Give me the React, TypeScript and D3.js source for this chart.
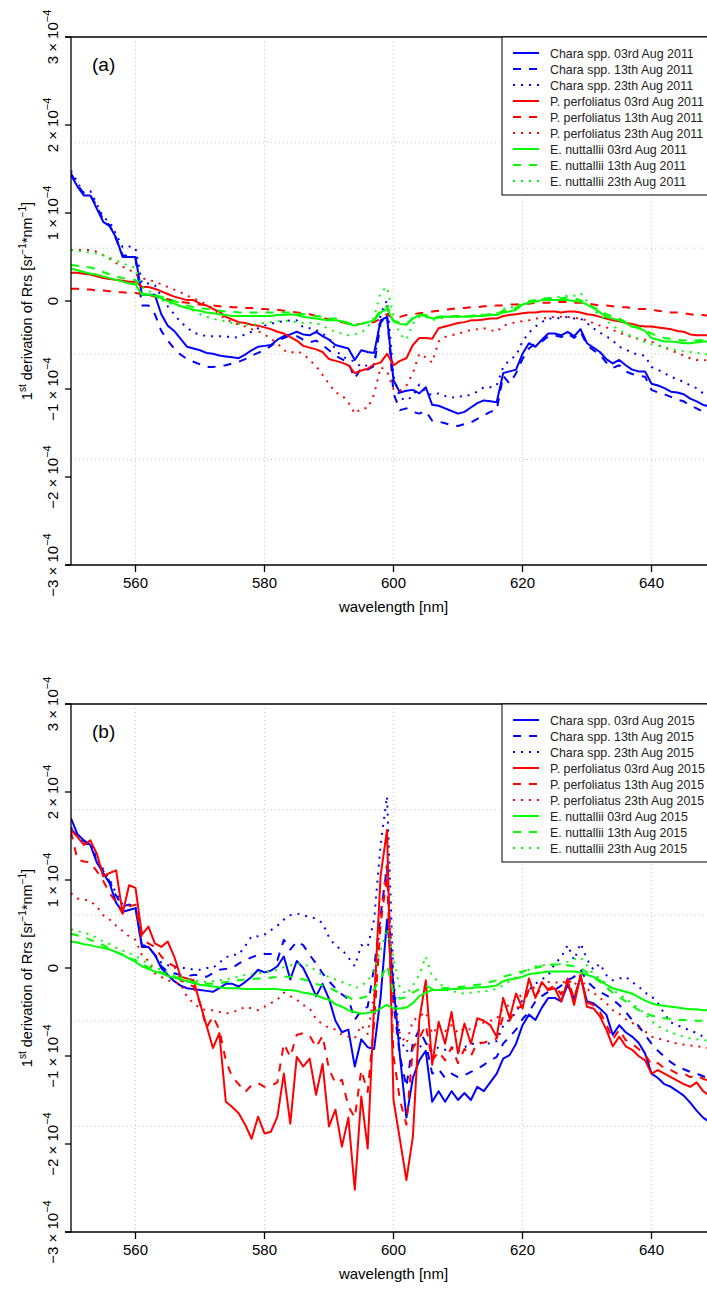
import React from "react";
import * as d3 from "d3";

// ---------- data (values in units of 1e-5 sr^-1 nm^-1) ----------
const WAVELENGTHS: number[] = d3.range(550, 651); // 550..650 nm, 1 nm steps

const X_TICKS = [560, 580, 600, 620, 640];
const Y_TICKS = [-3, -2, -1, 0, 1, 2, 3]; // x 10^-4
const GRID_Y = [-1.8, -0.6, 0.6, 1.8]; // x 10^-4
const VALUE_UNIT = 1e-5;

// Panel (a) 2011
const A_CHARA_03 = [
  14.3, 13.0, 12.0, 12.0, 10.5, 9.0, 8.5, 7.2, 5.0, 5.0,
  5.0, 0.7, 0.7, 0.7, -1.5, -2.8, -3.4, -4.3, -5.2, -5.4,
  -5.6, -5.9, -6.0, -6.2, -6.3, -6.4, -6.5, -6.1, -5.6, -5.2,
  -5.1, -5.0, -4.4, -4.0, -3.8, -3.5, -3.8, -3.9, -3.5, -4.0,
  -4.4, -5.0, -5.2, -5.4, -6.7, -5.6, -5.8, -5.9, -2.2, -1.8,
  -9.0, -10.4, -10.2, -10.1, -10.5, -9.8, -11.8, -11.9, -12.2, -12.5,
  -12.8, -12.6, -12.1, -11.6, -11.3, -11.4, -11.5, -8.2, -8.0, -7.8,
  -6.0, -4.8, -5.2, -4.4, -3.7, -3.7, -3.9, -3.5, -4.0, -3.2,
  -4.8, -5.3, -5.8, -6.6, -7.1, -6.7, -7.3, -7.8, -8.0, -8.0,
  -9.4, -9.6, -9.9, -10.3, -10.4, -10.6, -11.1, -11.4, -11.8, -12.0,
  -12.1,
];
const A_CHARA_13 = [
  14.5, 13.2, 12.2, 12.0, 10.8, 9.2, 8.6, 7.0, 5.2, 5.1,
  4.8, -0.5, -0.5, -1.5, -3.4, -4.5, -5.4, -6.1, -6.6, -6.9,
  -7.2, -7.5, -7.5, -7.4, -7.3, -7.1, -6.9, -6.6, -6.2, -5.9,
  -5.6, -5.1, -4.5, -4.2, -3.9, -4.0, -4.4, -4.7, -4.5, -5.0,
  -5.6, -6.2, -6.6, -7.0, -8.8, -7.6, -7.8, -7.4, -2.5, -1.5,
  -10.5, -12.4, -12.2, -12.6, -12.8, -12.5, -13.6, -13.7, -13.9, -14.1,
  -14.2, -14.0, -13.8, -13.4, -13.0, -12.6, -12.4, -8.5, -9.4, -8.2,
  -6.6, -5.4, -4.8, -4.6, -4.0, -3.9, -4.1, -3.7, -4.2, -3.5,
  -5.0, -5.6, -6.1, -7.0, -7.6, -7.3, -8.0, -8.3, -8.5, -8.6,
  -10.1, -10.4, -10.6, -10.9, -11.2, -11.4, -11.9, -12.2, -12.6, -12.8,
  -12.9,
];
const A_CHARA_23 = [
  14.8, 13.5, 12.3, 12.5, 11.0, 9.5, 9.0, 7.6, 6.1, 6.2,
  6.0, 2.0, 2.0, 1.8, 0.5, -0.6, -1.5, -2.4, -3.0, -3.6,
  -3.8, -4.0, -4.0, -4.0, -4.0, -4.2, -4.1, -3.8, -3.5, -3.1,
  -2.8, -2.6, -2.4, -2.3, -2.2, -2.2, -3.0, -3.1, -3.3, -3.7,
  -4.2, -5.5, -6.3, -6.6, -6.9, -7.5, -7.3, -7.2, -1.5, 0.1,
  -8.5, -11.0, -11.3, -10.8, -9.5, -10.4, -10.7, -10.5, -10.8, -11.0,
  -10.8, -10.9, -10.6, -10.3, -9.8, -9.8, -9.6, -7.5, -6.7, -6.2,
  -4.6, -3.6, -2.9, -2.4, -2.0, -2.0, -1.9, -1.8, -2.0, -2.0,
  -2.5, -3.1, -3.6, -4.0, -4.5, -5.2, -5.5, -5.9, -6.1, -6.2,
  -7.5, -7.8, -8.2, -8.6, -8.9, -9.2, -9.6, -9.9, -10.5, -10.6,
  -10.8,
];
const A_PERF_03 = [
  3.2, 3.2, 3.1, 3.0, 2.8, 2.6, 2.5, 2.4, 2.3, 2.2,
  2.2, 1.6, 1.6, 1.4, 1.1, 0.8, 0.5, 0.3, 0.1, 0.1,
  -0.3, -0.5, -0.9, -1.2, -1.8, -2.1, -2.4, -2.5, -2.7, -2.8,
  -3.0, -3.2, -3.5, -3.7, -4.1, -4.5, -5.1, -5.3, -5.5, -5.8,
  -6.6, -6.8, -7.0, -7.3, -8.2, -7.9, -7.7, -7.2, -7.0, -6.0,
  -7.3, -6.8, -6.5, -5.0, -4.2, -4.2, -4.3, -3.1, -2.9, -2.7,
  -2.5, -2.4, -2.2, -2.2, -2.1, -2.0, -2.0, -1.7, -1.6, -1.5,
  -1.4, -1.3, -1.3, -1.2, -1.2, -1.2, -1.3, -1.2, -1.2, -1.3,
  -1.5, -1.6, -1.8, -2.0, -2.2, -2.3, -2.5, -2.6, -2.8, -2.9,
  -2.9, -3.0, -3.1, -3.2, -3.4, -3.5, -3.8, -3.9, -3.9, -3.9,
  -3.9,
];
const A_PERF_13 = [
  1.4, 1.4, 1.3, 1.3, 1.2, 1.2, 1.1, 1.0, 1.0, 0.9,
  0.9, 0.8, 0.7, 0.5, 0.3, 0.2, 0.0, -0.1, -0.2, -0.3,
  -0.4, -0.5, -0.5, -0.6, -0.6, -0.7, -0.7, -0.8, -0.8, -0.9,
  -0.9, -1.0, -1.0, -1.1, -1.2, -1.3, -1.4, -1.5, -1.7, -1.9,
  -2.1, -2.3, -2.4, -2.6, -2.7, -2.6, -2.5, -2.4, -2.0, -1.5,
  -2.0, -1.8, -1.6, -1.5, -1.4, -1.3, -1.2, -1.1, -1.0, -0.9,
  -0.8, -0.8, -0.7, -0.7, -0.6, -0.6, -0.5, -0.5, -0.4, -0.4,
  -0.3, -0.3, -0.2, -0.2, -0.2, -0.1, -0.1, -0.1, -0.2, -0.2,
  -0.3, -0.4, -0.5, -0.5, -0.6, -0.7, -0.7, -0.8, -0.9, -0.9,
  -1.0, -1.1, -1.2, -1.3, -1.3, -1.4, -1.5, -1.6, -1.6, -1.7,
  -1.7,
];
const A_PERF_23 = [
  5.8, 5.8, 5.8, 5.8, 5.6, 5.2, 4.8, 4.3, 3.9, 3.6,
  3.0, 2.6, 2.4, 2.2, 1.9, 1.6, 1.3, 1.0, 0.6, 0.3,
  0.0, -0.4, -0.9, -1.5, -2.1, -2.4, -2.7, -2.9, -3.2, -3.4,
  -3.8, -4.3, -4.8, -5.6, -5.9, -5.7, -6.0, -6.7, -7.4, -8.4,
  -9.4, -10.4, -10.7, -11.5, -12.8, -12.2, -12.2, -10.6, -7.5, -8.0,
  -10.0, -10.2, -9.6, -8.2, -6.0, -6.4, -7.0, -4.6, -4.1, -3.9,
  -3.7, -3.5, -3.3, -3.2, -3.1, -3.3, -3.5, -2.8, -2.6, -2.4,
  -2.3, -2.2, -2.0, -2.0, -1.9, -1.8, -1.8, -1.8, -1.9, -2.0,
  -2.2, -2.5, -2.8, -3.0, -3.3, -3.6, -3.9, -4.1, -4.3, -4.4,
  -4.6, -5.0, -5.3, -5.6, -5.9, -6.2, -6.5, -6.7, -6.7, -6.8,
  -6.9,
];
const A_NUTT_03 = [
  3.7, 3.5, 3.3, 3.1, 3.0, 2.8, 2.6, 2.4, 2.2, 2.0,
  1.9, 0.7, 0.7, 0.6, 0.3, 0.0, -0.3, -0.6, -0.8, -1.0,
  -1.1, -1.3, -1.4, -1.5, -1.6, -1.7, -1.7, -1.7, -1.7, -1.7,
  -1.7, -1.7, -1.6, -1.6, -1.5, -1.6, -1.8, -1.9, -2.0, -2.1,
  -2.2, -2.2, -2.3, -2.6, -2.8, -2.6, -2.4, -2.2, -1.3, -0.9,
  -2.3, -2.6, -2.7, -2.0, -1.6, -1.7, -2.0, -1.9, -1.8, -1.8,
  -1.8, -1.8, -1.8, -1.7, -1.7, -1.6, -1.6, -1.3, -1.2, -1.0,
  -0.4, -0.2, -0.1, 0.1, 0.1, 0.1, 0.1, 0.1, 0.0, -0.1,
  -0.4, -0.8, -1.3, -1.8, -2.0, -2.2, -2.5, -2.9, -3.1, -3.4,
  -4.2, -4.4, -4.6, -4.6, -4.7, -4.8, -4.8, -4.7, -4.6, -4.6,
  -4.6,
];
const A_NUTT_13 = [
  4.1, 4.0, 3.9, 3.8, 3.6, 3.3, 3.0, 2.8, 2.6, 2.5,
  2.4, 0.8, 0.8, 0.7, 0.5, 0.3, 0.0, -0.3, -0.5, -0.7,
  -0.8, -0.9, -1.0, -1.1, -1.2, -1.2, -1.3, -1.3, -1.3, -1.3,
  -1.3, -1.3, -1.3, -1.3, -1.3, -1.4, -1.5, -1.6, -1.7, -1.8,
  -2.0, -2.0, -2.2, -2.5, -2.7, -2.6, -2.4, -2.1, -1.0, -0.6,
  -2.2, -2.5, -2.6, -1.9, -1.5, -1.6, -1.9, -1.8, -1.7, -1.7,
  -1.7, -1.7, -1.7, -1.6, -1.6, -1.5, -1.5, -1.1, -1.0, -0.8,
  -0.2, 0.0, 0.1, 0.3, 0.3, 0.3, 0.3, 0.4, 0.3, 0.1,
  -0.3, -0.7, -1.1, -1.5, -1.8, -2.0, -2.4, -2.8, -3.0, -3.3,
  -3.7, -4.0, -4.2, -4.3, -4.4, -4.5, -4.5, -4.5, -4.4, -4.4,
  -4.4,
];
const A_NUTT_23 = [
  5.8, 5.7, 5.6, 5.5, 5.4, 5.2, 4.9, 4.6, 4.3, 4.0,
  3.8, 1.6, 1.2, 0.6, 0.1, -0.2, -0.4, -0.6, -0.8, -1.1,
  -1.5, -1.8, -2.0, -2.2, -2.3, -2.5, -2.6, -2.7, -2.7, -2.6,
  -2.5, -2.4, -2.3, -2.2, -2.3, -2.4, -2.5, -2.5, -2.5, -2.8,
  -3.2, -3.5, -3.7, -3.9, -3.8, -3.6, -3.0, -1.8, 1.0, 1.6,
  -1.8, -3.8, -4.4, -2.6, -1.8, -1.8, -2.2, -2.0, -1.9, -1.8,
  -1.8, -1.7, -1.7, -1.6, -1.5, -1.5, -1.4, -0.9, -0.7, -0.7,
  -0.5, -0.2, 0.1, 0.2, 0.3, 0.4, 0.5, 0.6, 0.6, 0.9,
  0.0, -1.0, -1.6, -2.2, -2.8, -3.3, -3.7, -4.0, -4.3, -4.7,
  -4.9, -5.1, -5.2, -5.5, -5.6, -5.7, -5.8, -5.9, -6.0, -6.1,
  -6.1,
];

// Panel (b) 2015
const B_CHARA_03 = [
  17.0, 15.2, 14.5, 14.0, 12.0, 10.8, 9.6, 7.4, 6.4, 6.6,
  6.8, 2.4, 2.4, 1.5, 0.0, -0.8, -1.5, -2.0, -2.3, -2.4,
  -2.5, -2.6, -2.7, -2.3, -1.8, -1.8, -2.1, -1.6, -1.0, -0.2,
  -0.5, -0.3, 0.2, 1.3, -1.3, 0.8, 0.0, -1.5, -3.2, -1.8,
  -3.5, -6.0, -7.3, -7.0, -11.2, -8.1, -9.0, -9.2, -3.3, 5.5,
  -2.0, -10.0, -17.0, -12.5, -10.5, -9.4, -15.2, -14.0, -15.2, -14.0,
  -15.0, -14.2, -15.0, -13.5, -14.0, -13.0, -12.0, -10.3, -9.9, -8.6,
  -6.5, -5.3, -5.9, -4.5, -3.4, -3.4, -3.8, -1.9, -3.6, -1.0,
  -3.8, -4.0, -4.6, -5.3, -7.6, -6.5, -7.3, -7.8, -8.5, -9.7,
  -12.0, -12.5, -13.2, -13.5, -14.0, -14.5, -15.3, -16.2, -17.0, -17.5,
  -17.2,
];
const B_CHARA_13 = [
  15.8, 15.0, 14.4, 14.0, 12.2, 11.0, 9.8, 8.2, 7.0, 7.2,
  7.0, 2.6, 2.4, 1.5, 0.2, -0.4, -0.6, -0.8, -0.9, -0.8,
  -0.8, -1.0, -0.6, -0.2, -0.1, 0.0, 0.5, 0.9, 1.2, 1.5,
  1.6, 1.6, 0.9, 3.2, 2.1, 3.0, 2.6, 1.5, 0.5, -0.6,
  -1.5, -2.3, -3.0, -3.5, -5.9, -4.8, -4.4, 0.1, 6.0, 11.5,
  -4.0, -10.0, -13.5, -8.5, -7.0, -8.5, -12.0, -11.5, -12.5, -12.0,
  -12.4, -12.2, -11.8, -11.5, -11.0, -10.5, -10.1, -8.6, -7.8, -7.0,
  -5.8, -5.0, -3.8, -3.2, -2.7, -2.5, -2.0, -1.4, -1.0, -0.2,
  -1.5, -2.2, -2.7, -3.1, -3.6, -4.2, -5.0, -5.9, -6.6, -7.6,
  -8.6, -9.4, -10.1, -10.7, -11.2, -11.5, -11.8, -12.0, -12.3, -12.6,
  -12.7,
];
const B_CHARA_23 = [
  16.0, 15.0, 14.0, 14.2, 12.5, 11.2, 10.0, 8.5, 7.2, 7.2,
  7.0, 2.6, 2.4, 1.5, 0.6, 0.3, 0.2, 0.0, 0.0, -0.2,
  -0.2, 0.0, 0.0, 0.6, 1.2, 1.5, 1.5, 2.5, 3.6, 3.6,
  3.8, 4.3, 4.8, 5.5, 6.0, 6.2, 6.0, 5.8, 5.6, 5.1,
  3.5, 2.5, 2.1, 1.2, 0.2, 2.6, 2.4, 5.5, 14.0, 19.5,
  -1.5, -8.0, -9.5, -8.8, -9.0, -8.5, -9.5, -9.0, -9.3, -9.0,
  -9.5, -9.0, -8.6, -8.6, -8.5, -8.6, -8.3, -6.6, -5.8, -5.1,
  -3.6, -2.5, -1.8, -1.3, -0.8, 0.5, 1.2, 2.6, 0.9, 2.8,
  1.0, -0.2, 0.5, -0.8, -1.4, -1.2, -1.0, -1.6, -2.1, -2.8,
  -3.2, -4.0, -5.2, -6.2, -6.5, -6.8, -7.1, -7.4, -7.8, -8.1,
  -8.2,
];
const B_PERF_03 = [
  15.7, 14.9, 14.0, 14.5, 13.0, 10.4, 10.8, 11.1, 6.2, 9.4,
  9.1, 3.8, 4.7, 2.8, 2.4, 3.0, 1.3, -1.0, -1.2, -1.4,
  -4.0, -6.5, -9.1, -7.4, -15.2, -15.8, -16.5, -17.8, -19.4, -16.9,
  -18.8, -18.6, -16.9, -12.0, -17.7, -10.1, -11.2, -10.3, -14.4, -10.9,
  -18.0, -16.1, -20.3, -17.0, -25.2, -14.6, -20.5, -4.0, 10.5, 15.7,
  -15.0, -19.5, -24.1, -19.2, -5.9, -1.4, -11.0, -6.1, -8.6, -5.0,
  -9.7, -6.3, -8.6, -5.7, -6.0, -6.5, -7.8, -3.4, -5.7, -2.9,
  -4.6, -1.2, -3.4, -1.6, -2.5, -2.3, -3.8, -1.4, -4.2, -0.8,
  -4.4, -4.6, -5.5, -7.0, -8.9, -7.8, -8.9, -9.3, -10.0, -10.5,
  -12.0, -11.6, -12.0, -12.4, -12.8, -13.2, -13.5, -13.0, -14.0, -14.5,
  -14.5,
];
const B_PERF_13 = [
  15.5, 12.3, 12.1, 12.0, 11.0, 9.9, 8.5, 7.5, 6.2, 7.0,
  7.2, 3.2, 2.8, 2.4, 1.3, 0.6, 0.2, -1.4, -1.8, -2.1,
  -4.0, -6.8, -5.5, -7.0, -10.5, -12.4, -13.2, -14.1, -13.3, -13.1,
  -13.5, -13.4, -13.0, -8.6, -10.1, -7.6, -7.4, -7.7, -9.0, -7.7,
  -11.5, -13.1, -12.7, -15.7, -17.0, -11.6, -14.1, -6.2, 5.0, 10.5,
  -10.0, -15.0, -17.8, -9.1, -8.0, -6.5, -10.5, -9.5, -10.5, -9.0,
  -10.8, -9.2, -10.0, -8.5, -8.5, -8.2, -8.0, -5.5, -6.0, -4.5,
  -4.4, -2.5, -3.2, -2.2, -2.4, -2.0, -3.0, -1.2, -3.5, -0.8,
  -3.9, -4.2, -5.0, -6.4, -8.1, -7.0, -8.2, -8.6, -9.2, -9.8,
  -11.0, -10.8, -11.4, -11.6, -12.0, -12.0, -12.4, -12.2, -12.6, -12.8,
  -12.8,
];
const B_PERF_23 = [
  8.5, 7.9, 7.8, 7.6, 7.0, 6.0, 5.5, 4.8, 4.2, 3.6,
  3.2, 1.5, 0.8, -0.6, -1.0, -1.4, -1.6, -1.8, -3.3, -4.0,
  -4.6, -4.8, -4.8, -5.0, -5.2, -5.0, -4.8, -4.4, -4.6, -4.8,
  -4.4, -4.0, -3.6, -2.8, -3.2, -3.6, -4.2, -4.6, -5.8, -6.4,
  -6.8, -7.0, -7.6, -7.8, -8.0, -6.5, -7.5, -3.0, 6.0, 12.0,
  -4.0, -7.5, -8.6, -6.0, -5.5, -5.0, -7.5, -6.5, -7.2, -6.5,
  -7.4, -6.8, -7.0, -6.4, -6.2, -6.0, -5.8, -4.5, -4.2, -3.5,
  -3.0, -2.4, -2.2, -1.8, -1.6, -1.6, -1.8, -1.3, -2.0, -1.0,
  -2.4, -2.8, -3.4, -4.0, -4.8, -5.2, -5.8, -6.2, -6.8, -7.2,
  -7.8, -8.0, -8.2, -8.4, -8.6, -8.7, -8.8, -8.9, -9.0, -9.1,
  -9.1,
];
const B_NUTT_03 = [
  3.0, 2.9, 2.7, 2.6, 2.4, 2.3, 2.1, 1.8, 1.5, 1.1,
  0.7, 0.2, -0.1, -0.4, -0.6, -0.9, -1.1, -1.3, -1.5, -1.7,
  -1.9, -2.0, -2.1, -2.2, -2.3, -2.3, -2.3, -2.4, -2.4, -2.4,
  -2.4, -2.4, -2.4, -2.5, -2.5, -2.6, -2.8, -2.9, -3.1, -3.4,
  -3.6, -4.1, -4.4, -4.8, -5.0, -5.2, -5.1, -5.0, -4.6, -4.2,
  -4.6, -4.6, -4.5, -4.0, -3.2, -2.8, -2.5, -2.5, -2.5, -2.4,
  -2.4, -2.3, -2.3, -2.2, -2.2, -2.1, -2.0, -1.5, -1.3, -1.2,
  -1.0, -0.7, -0.6, -0.5, -0.4, -0.4, -0.4, -0.4, -0.4, -0.5,
  -0.8, -1.0, -1.4, -1.9, -2.3, -2.5, -2.7, -2.9, -3.3, -3.7,
  -4.0, -4.2, -4.3, -4.4, -4.5, -4.6, -4.7, -4.7, -4.8, -4.8,
  -4.8,
];
const B_NUTT_13 = [
  3.9, 3.7, 3.5, 3.2, 2.9, 2.6, 2.2, 1.8, 1.5, 1.1,
  0.9, 0.4, 0.1, -0.2, -0.5, -0.8, -1.0, -1.2, -1.4, -1.6,
  -1.7, -1.8, -1.8, -1.7, -1.6, -1.5, -1.4, -1.3, -1.3, -1.2,
  -1.2, -1.1, -1.0, -1.0, -1.0, -1.1, -1.3, -1.5, -1.8, -2.0,
  -2.2, -2.6, -3.0, -3.3, -3.7, -3.4, -3.2, -2.4, -1.2, 0.3,
  -2.8, -3.5, -3.3, -2.8, -2.4, -2.0, -2.4, -2.3, -2.3, -2.2,
  -2.2, -2.1, -2.0, -1.9, -1.8, -1.6, -1.4, -1.0, -0.8, -0.6,
  -0.4, -0.2, 0.0, 0.2, 0.3, 0.4, 0.4, 0.3, 0.2, 0.0,
  -0.5, -1.0, -1.6, -2.2, -2.8, -3.3, -3.8, -4.3, -4.8, -5.1,
  -5.4, -5.6, -5.7, -5.8, -5.9, -5.9, -5.9, -6.0, -6.0, -6.0,
  -6.0,
];
const B_NUTT_23 = [
  4.4, 4.2, 4.0, 3.8, 3.4, 3.0, 2.7, 2.3, 2.0, 1.7,
  1.4, 0.9, 0.5, 0.1, -0.2, -0.5, -0.8, -1.0, -1.2, -1.4,
  -1.5, -1.6, -1.5, -1.4, -1.3, -1.1, -1.0, -0.8, -0.7, -0.6,
  -0.5, -0.4, -0.2, 0.1, 0.3, 0.5, 0.4, 0.2, -0.3, -0.8,
  -1.0, -1.3, -1.6, -1.8, -2.3, -2.0, -1.5, -0.2, 2.0, 4.5,
  1.0, -2.3, -3.0, -2.0, -0.8, 1.3, -1.0, -1.5, -2.5, -2.6,
  -2.8, -2.9, -2.8, -2.7, -2.7, -2.5, -2.4, -2.0, -1.5, -1.0,
  -0.5, -0.2, 0.2, 0.3, 0.4, 0.4, 0.5, 0.7, 1.0, 1.2,
  0.3, -0.7, -1.2, -1.8, -2.5, -3.0, -3.5, -4.0, -4.6, -5.2,
  -6.0, -6.6, -7.0, -7.3, -7.6, -7.8, -8.0, -8.1, -8.2, -8.3,
  -8.3,
];

const SPECIES = ["Chara spp.", "P. perfoliatus", "E. nuttallii"];
const DATES = ["03rd", "13th", "23th"];
const COLORS = ["#0000ff", "#ff0000", "#00ff00"];
const DASHES = [undefined, "8 8", "2 6"];

const PANEL_A = [A_CHARA_03, A_CHARA_13, A_CHARA_23, A_PERF_03, A_PERF_13, A_PERF_23, A_NUTT_03, A_NUTT_13, A_NUTT_23];
const PANEL_B = [B_CHARA_03, B_CHARA_13, B_CHARA_23, B_PERF_03, B_PERF_13, B_PERF_23, B_NUTT_03, B_NUTT_13, B_NUTT_23];

// ---------- layout ----------
const W = 707;
const H = 1289;
const LEFT = 71;
const RIGHT = 716;
const PLOT_H = 528;
const FONT = "'Liberation Sans', Arial, Helvetica, sans-serif";

type PanelProps = { top: number; tag: string; year: string; data: number[][]; id: string };

function Panel({ top, tag, year, data, id }: PanelProps) {
  const bottom = top + PLOT_H;
  const x = d3.scaleLinear().domain([550, 650]).range([LEFT, RIGHT]);
  const y = d3.scaleLinear().domain([-3e-4, 3e-4]).range([bottom, top]);
  const line = d3
    .line<number>()
    .x((_, i) => x(WAVELENGTHS[i]))
    .y((v) => y(v * VALUE_UNIT));

  const series = data.map((values, k) => ({
    values,
    color: COLORS[Math.floor(k / 3)],
    dash: DASHES[k % 3],
    label: `${SPECIES[Math.floor(k / 3)]} ${DATES[k % 3]} Aug ${year}`,
  }));

  const midY = (top + bottom) / 2;
  const legX = 502;

  return (
    <g>
      <defs>
        <clipPath id={id}>
          <rect x={LEFT} y={top} width={RIGHT - LEFT} height={PLOT_H} />
        </clipPath>
      </defs>
      {/* grid */}
      <g stroke="#c8c8c8" strokeWidth={1} strokeDasharray="1 3">
        {X_TICKS.map((t) => (
          <line key={"gx" + t} x1={x(t)} x2={x(t)} y1={top} y2={bottom} />
        ))}
        {GRID_Y.map((t) => (
          <line key={"gy" + t} x1={LEFT} x2={RIGHT} y1={y(t * 1e-4)} y2={y(t * 1e-4)} />
        ))}
      </g>
      {/* series */}
      <g clipPath={`url(#${id})`} fill="none">
        {series.map((s, k) => (
          <path
            key={k}
            d={line(s.values) || ""}
            stroke={s.color}
            strokeWidth={2}
            strokeDasharray={s.dash}
            strokeLinejoin="round"
          />
        ))}
      </g>
      {/* frame and axes */}
      <g stroke="#000" strokeWidth={1.3} fill="none">
        <line x1={LEFT - 6} x2={RIGHT} y1={top} y2={top} />
        <line x1={LEFT - 6} x2={RIGHT} y1={bottom} y2={bottom} />
        <line x1={LEFT} x2={LEFT} y1={top} y2={bottom} />
        <line x1={RIGHT} x2={RIGHT} y1={top} y2={bottom} />
        {Y_TICKS.map((t) => (
          <line key={"ty" + t} x1={LEFT - 6} x2={LEFT} y1={y(t * 1e-4)} y2={y(t * 1e-4)} />
        ))}
        {X_TICKS.map((t) => (
          <line key={"tx" + t} x1={x(t)} x2={x(t)} y1={bottom} y2={bottom + 7} />
        ))}
      </g>
      {/* y tick labels */}
      <g fontFamily={FONT} fontSize={15} fill="#000">
        {Y_TICKS.map((t) => (
          <text key={"ly" + t} transform={`translate(58,${y(t * 1e-4)}) rotate(-90)`} textAnchor="middle">
            {t === 0 ? (
              "0"
            ) : (
              <>
                {`${t < 0 ? "\u2212" : ""}${Math.abs(t)} \u00d7 10`}
                <tspan dy={-7} fontSize={11}>{"\u22124"}</tspan>
              </>
            )}
          </text>
        ))}
      </g>
      {/* x tick labels */}
      <g fontFamily={FONT} fontSize={15} fill="#000" textAnchor="middle">
        {X_TICKS.map((t) => (
          <text key={"lx" + t} x={x(t)} y={bottom + 23}>
            {t}
          </text>
        ))}
        <text x={(LEFT + RIGHT) / 2} y={bottom + 47}>wavelength [nm]</text>
      </g>
      {/* y title */}
      <text transform={`translate(32,${midY}) rotate(-90)`} textAnchor="middle" fontFamily={FONT} fontSize={14.5}>
        1<tspan dy={-6} fontSize={10}>st</tspan>
        <tspan dy={6}> derivation of Rrs [sr</tspan>
        <tspan dy={-6} fontSize={10}>{"\u22121"}</tspan>
        <tspan dy={6}>*nm</tspan>
        <tspan dy={-6} fontSize={10}>{"\u22121"}</tspan>
        <tspan dy={6}>]</tspan>
      </text>
      {/* panel tag */}
      <text x={92} y={top + 34} fontFamily={FONT} fontSize={19}>
        {tag}
      </text>
      {/* legend */}
      <rect x={legX} y={top} width={260} height={158} fill="#fff" stroke="#000" strokeWidth={1} />
      <g fontFamily={FONT} fontSize={12.4}>
        {series.map((s, k) => {
          const ly = top + 16 * (k + 1);
          return (
            <g key={"lg" + k}>
              <line x1={513} x2={539} y1={ly} y2={ly} stroke={s.color} strokeWidth={2} strokeDasharray={s.dash} />
              <text x={550} y={ly + 4.5} fill="#222">
                {s.label}
              </text>
            </g>
          );
        })}
      </g>
    </g>
  );
}

export default function App() {
  return (
    <svg
      width={W}
      height={H}
      viewBox={`0 0 ${W} ${H}`}
      style={{ position: "absolute", left: 0, top: 0, background: "#fff" }}
    >
      <rect x={0} y={0} width={W} height={H} fill="#fff" />
      <Panel top={37} tag="(a)" year="2011" data={PANEL_A} id="clipA" />
      <Panel top={704} tag="(b)" year="2015" data={PANEL_B} id="clipB" />
    </svg>
  );
}
